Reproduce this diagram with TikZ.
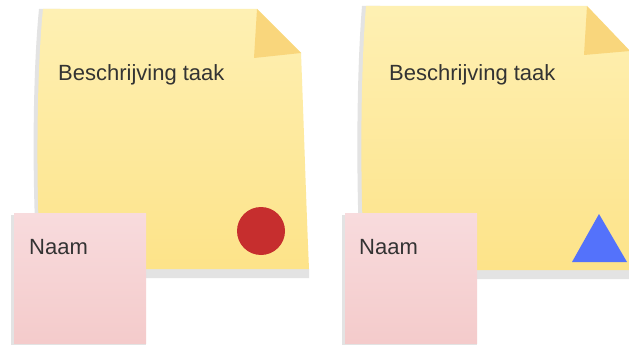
\documentclass[tikz,border=0pt]{standalone}
\usepackage{fontspec}
\setmainfont{Liberation Sans}
\definecolor{ytop}{HTML}{FEF0B3}
\definecolor{ybot}{HTML}{FDE389}
\definecolor{fold}{HTML}{F9D67C}
\definecolor{ptop}{HTML}{F8DBDD}
\definecolor{pbot}{HTML}{F4CBCB}
\definecolor{shadowc}{HTML}{E3E3E3}
\definecolor{dotred}{HTML}{C62E2E}
\definecolor{triblue}{HTML}{5472FB}
\definecolor{txt}{HTML}{333333}
\begin{document}
\begin{tikzpicture}[x=1pt,y=-1pt,
  label/.style={anchor=base west,inner sep=0pt,text=txt,font=\fontsize{22}{26}\selectfont},
  shadowfill/.style={fill=shadowc,draw=none},
  yellownote/.style={top color=ytop,bottom color=ybot,draw=none},
  pinknote/.style={top color=ptop,bottom color=pbot,draw=none}]
\useasboundingbox (0,0) rectangle (629,345);
\clip (0,0) rectangle (629,345);
\fill[white] (0,0) rectangle (629,345);
% ---- left task note ----
\fill[shadowfill] (39,9) -- (60,9) -- (60,269) -- (309,269) -- (309,278) -- (38,278) .. controls (32,200) and (32,80) .. (39,9) -- cycle;
\shade[yellownote] (43,9) -- (257,9) -- (301,53) .. controls (304,130) and (306,200) .. (309,269) -- (41,269) .. controls (36,200) and (36,80) .. (43,9) -- cycle;
\fill[fold] (257,9) -- (301,53) -- (254,58) -- cycle;
\node[label] (t1) at (58,81) {Beschrijving taak};
\fill[dotred] (261,231) circle[radius=24];
\fill[shadowfill] (11,215) rectangle (146,345);
\shade[pinknote] (14,213) rectangle (146,343);
\node[label] (n1) at (29,254) {Naam};
% ---- right task note ----
\fill[shadowfill] (362,6) -- (380,6) -- (380,270) -- (640,270) -- (640,279) -- (361,279) .. controls (356,200) and (356,80) .. (362,6) -- cycle;
\shade[yellownote] (366,6) -- (587,6) -- (629,50) .. controls (631,130) and (633,200) .. (636,270) -- (365,270) .. controls (360,200) and (360,80) .. (366,6) -- cycle;
\fill[fold] (587,6) -- (630,51) -- (584,55) -- cycle;
\node[label] (t2) at (389,81) {Beschrijving taak};
\fill[triblue] (599,214) -- (627,262) -- (572,262) -- cycle;
\fill[shadowfill] (342,215) rectangle (477,345);
\shade[pinknote] (345,213) rectangle (477,343);
\node[label] (n2) at (359,254) {Naam};
\end{tikzpicture}
\end{document}
